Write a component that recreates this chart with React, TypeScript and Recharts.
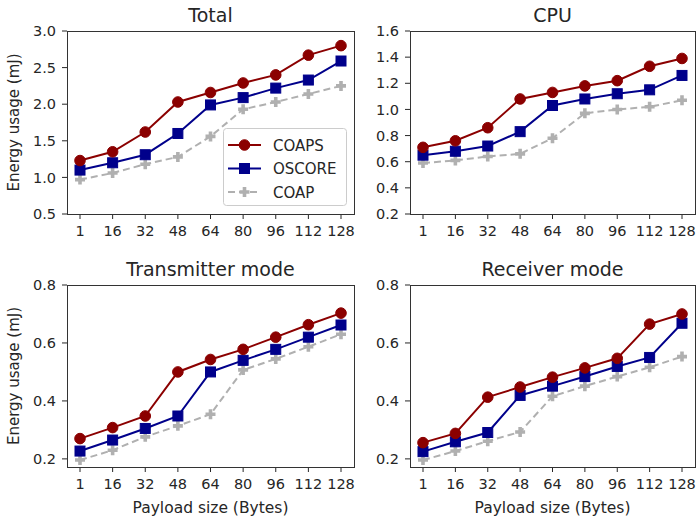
import { LineChart, Line, XAxis, YAxis, Legend } from 'recharts'

const payloadSizes = ['1', '16', '32', '48', '64', '80', '96', '112', '128']

const totalCoaps = [1.23, 1.35, 1.62, 2.03, 2.16, 2.29, 2.4, 2.67, 2.8]
const totalOscore = [1.1, 1.2, 1.31, 1.6, 1.99, 2.09, 2.22, 2.33, 2.59]
const totalCoap = [0.97, 1.06, 1.18, 1.28, 1.56, 1.93, 2.03, 2.14, 2.25]

const cpuCoaps = [0.71, 0.76, 0.86, 1.08, 1.13, 1.18, 1.22, 1.33, 1.39]
const cpuOscore = [0.65, 0.68, 0.72, 0.83, 1.03, 1.08, 1.12, 1.15, 1.26]
const cpuCoap = [0.59, 0.61, 0.64, 0.66, 0.78, 0.97, 1.0, 1.02, 1.07]

const txCoaps = [0.27, 0.308, 0.348, 0.5, 0.543, 0.578, 0.62, 0.663, 0.703]
const txOscore = [0.227, 0.265, 0.305, 0.348, 0.5, 0.54, 0.578, 0.62, 0.662]
const txCoap = [0.196, 0.23, 0.276, 0.314, 0.354, 0.507, 0.545, 0.587, 0.63]

const rxCoaps = [0.256, 0.288, 0.413, 0.448, 0.482, 0.514, 0.547, 0.665, 0.7]
const rxOscore = [0.225, 0.259, 0.291, 0.419, 0.451, 0.484, 0.519, 0.55, 0.668]
const rxCoap = [0.196, 0.227, 0.261, 0.293, 0.416, 0.451, 0.484, 0.516, 0.553]

const totalTicks = [0.5, 1.0, 1.5, 2.0, 2.5, 3.0]
const cpuTicks = [0.2, 0.4, 0.6, 0.8, 1.0, 1.2, 1.4, 1.6]
const modeTicks = [0.2, 0.4, 0.6, 0.8]

const RED = '#8B0000'
const BLUE = '#00008B'
const GREY = '#B0B0B0'
const INK = '#262626'
const FONT = '"DejaVu Sans", sans-serif'

const panels = [
    { title: 'Total', coaps: totalCoaps, oscore: totalOscore, coap: totalCoap, domain: [0.5, 3.0], ticks: totalTicks, x: 67, y: 31, w: 287, h: 183, yLabel: true, xLabel: false, legend: true },
    { title: 'CPU', coaps: cpuCoaps, oscore: cpuOscore, coap: cpuCoap, domain: [0.2, 1.6], ticks: cpuTicks, x: 410, y: 31, w: 285, h: 183, yLabel: false, xLabel: false, legend: false },
    { title: 'Transmitter mode', coaps: txCoaps, oscore: txOscore, coap: txCoap, domain: [0.172, 0.8], ticks: modeTicks, x: 67, y: 285, w: 287, h: 182, yLabel: true, xLabel: true, legend: false },
    { title: 'Receiver mode', coaps: rxCoaps, oscore: rxOscore, coap: rxCoap, domain: [0.172, 0.8], ticks: modeTicks, x: 410, y: 285, w: 285, h: 182, yLabel: false, xLabel: true, legend: false },
]

function Circle({ cx, cy }: { cx: number; cy: number }) {
    return <circle cx={cx} cy={cy} r={5.3} fill={RED} stroke={RED} />
}

function Square({ cx, cy }: { cx: number; cy: number }) {
    return <rect x={cx - 5} y={cy - 5} width={10} height={10} fill={BLUE} stroke={BLUE} />
}

function Plus({ cx, cy }: { cx: number; cy: number }) {
    const a = 5, b = 1.8
    const d = `M${cx - b},${cy - a}H${cx + b}V${cy - b}H${cx + a}V${cy + b}H${cx + b}V${cy + a}H${cx - b}V${cy + b}H${cx - a}V${cy - b}H${cx - b}Z`
    return <path d={d} fill={GREY} />
}

const markerFor: Record<string, (p: { cx: number; cy: number }) => any> = {
    COAPS: Circle,
    OSCORE: Square,
    COAP: Plus,
}

function LegendBox() {
    const rows = [
        { name: 'COAPS', color: RED, dash: undefined },
        { name: 'OSCORE', color: BLUE, dash: undefined },
        { name: 'COAP', color: GREY, dash: '7 4' },
    ]
    return (
        <svg width={124} height={78} style={{ display: 'block' }}>
            <rect x={0.5} y={0.5} width={123} height={77} rx={3} fill="rgba(255,255,255,0.85)" stroke="#CCCCCC" />
            {rows.map((r, i) => {
                const cy = 17 + i * 23.5
                const M = markerFor[r.name]
                return (
                    <g key={r.name}>
                        <line x1={5} x2={38} y1={cy} y2={cy} stroke={r.color} strokeWidth={2} strokeDasharray={r.dash} />
                        <M cx={21.5} cy={cy} />
                        <text x={50} y={cy + 5.5} fontSize={15} fill={INK} fontFamily={FONT}>{r.name}</text>
                    </g>
                )
            })}
        </svg>
    )
}

function Panel({ p }: { p: typeof panels[number] }) {
    const data = payloadSizes.map((size, i) => ({
        size,
        COAPS: p.coaps[i],
        OSCORE: p.oscore[i],
        COAP: p.coap[i],
    }))
    const tickStyle = { fontSize: 14.5, fill: INK, fontFamily: FONT }
    return (
        <div style={{ position: 'absolute', left: p.x - 60, top: p.y - 10 }}>
            <LineChart
                width={p.w + 62}
                height={p.h + 60}
                data={data}
                margin={{ top: 10, right: 2, left: 0, bottom: 0 }}
            >
                <XAxis
                    dataKey="size"
                    height={50}
                    padding={{ left: 13, right: 13 }}
                    axisLine={false}
                    tickLine={{ stroke: INK }}
                    tickSize={5}
                    tickMargin={7}
                    tick={tickStyle}
                    interval={0}
                />
                <YAxis
                    width={60}
                    type="number"
                    domain={p.domain}
                    ticks={p.ticks}
                    allowDataOverflow
                    axisLine={false}
                    tickLine={{ stroke: INK }}
                    tickSize={5}
                    tickMargin={6}
                    tick={tickStyle}
                    tickFormatter={(v: number) => v.toFixed(1)}
                    interval={0}
                />
                <Line dataKey="COAP" stroke={GREY} strokeWidth={2} strokeDasharray="7 4" dot={(d: any) => <Plus key={`c-${d.index}`} cx={d.cx} cy={d.cy} />} isAnimationActive={false} />
                <Line dataKey="OSCORE" stroke={BLUE} strokeWidth={2} dot={(d: any) => <Square key={`o-${d.index}`} cx={d.cx} cy={d.cy} />} isAnimationActive={false} />
                <Line dataKey="COAPS" stroke={RED} strokeWidth={2} dot={(d: any) => <Circle key={`s-${d.index}`} cx={d.cx} cy={d.cy} />} isAnimationActive={false} />
                {p.legend && (
                    <Legend
                        layout="vertical"
                        align="center"
                        verticalAlign="middle"
                        wrapperStyle={{ left: 223 - (p.x - 60), top: 128 - (p.y - 10), width: 124, height: 78 }}
                        content={() => <LegendBox />}
                    />
                )}
            </LineChart>
        </div>
    )
}

export default function App() {
    return (
        <div style={{ position: 'absolute', left: 0, top: 0, width: 698, height: 519, background: '#fff', fontFamily: FONT }}>
            {panels.map(p => <Panel key={p.title} p={p} />)}
            <svg width={698} height={519} style={{ position: 'absolute', left: 0, top: 0, pointerEvents: 'none' }}>
                {panels.map(p => (
                    <g key={p.title}>
                        <rect x={p.x + 0.5} y={p.y + 0.5} width={p.w} height={p.h} fill="none" stroke="#333333" strokeWidth={1} />
                        <text x={p.x + p.w / 2} y={p.y - 9} textAnchor="middle" fontSize={19} fill={INK} fontFamily={FONT}>{p.title}</text>
                        {p.yLabel && (
                            <text transform={`translate(19, ${p.y + p.h / 2}) rotate(-90)`} textAnchor="middle" fontSize={15} fill={INK} fontFamily={FONT}>Energy usage (mJ)</text>
                        )}
                        {p.xLabel && (
                            <text x={p.x + p.w / 2} y={p.y + p.h + 46} textAnchor="middle" fontSize={15.5} fill={INK} fontFamily={FONT}>Payload size (Bytes)</text>
                        )}
                    </g>
                ))}
            </svg>
        </div>
    )
}
